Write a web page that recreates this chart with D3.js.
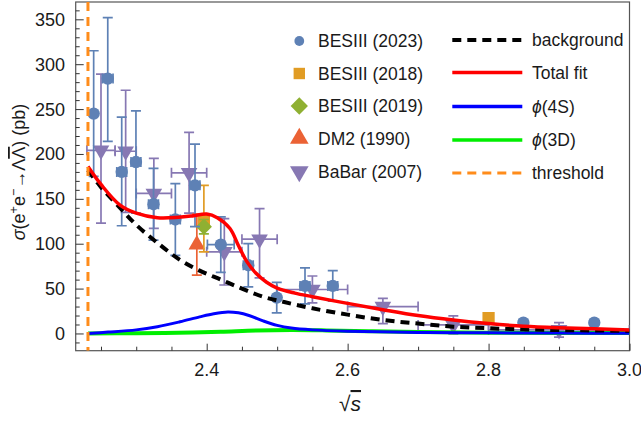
<!DOCTYPE html>
<html>
<head>
<meta charset="utf-8">
<script src="https://cdn.jsdelivr.net/npm/d3@7"></script>
<style>
body { margin: 0; background: #fff; }
text { font-family: "Liberation Sans", Arial, sans-serif; fill: #1a1a1a; }
</style>
</head>
<body>
<div class="content"></div>
<script>
var size = {width: 641, height: 428};
var plotBox = {left: 75.7, right: 629.5, top: 2, bottom: 350.7};

// data points: [x, y, errDown, errUp, xLo, xHi]
var bes2023 = [
    [2.2396, 245, 70, 70, 2.2396, 2.2396],
    [2.2596, 284, 70, 68, 2.2521, 2.2671],
    [2.2794, 180, 60, 61, 2.2724, 2.2864],
    [2.2996, 191, 57, 57, 2.2926, 2.3066],
    [2.3245, 144, 40, 40, 2.3175, 2.3315],
    [2.3555, 127, 40, 40, 2.3485, 2.3625],
    [2.3834, 165, 46, 46, 2.3764, 2.3904],
    [2.4200, 99, 31, 31, 2.4010, 2.4390],
    [2.4590, 76, 24, 24, 2.4520, 2.4660],
    [2.4994, 40, 17, 17, 2.4994, 2.4994],
    [2.5395, 53, 20, 20, 2.5325, 2.5465],
    [2.5789, 53, 17, 17, 2.5719, 2.5859],
    [2.8494, 12, 3, 3, 2.8494, 2.8494],
    [2.9500, 12, 3, 3, 2.9500, 2.9500]
];
var bes2018 = [
    [2.3960, 126, 35, 39, 2.3960, 2.3960],
    [2.8000, 17, 2, 2, 2.8000, 2.8000]
];
var bes2019 = [
    [2.3960, 119, 8, 8, 2.3960, 2.3960]
];
var dm2 = [
    [2.3860, 99, 34, 34, 2.3860, 2.3860]
];
var babar = [
    [2.250, 204, 81, 85, 2.23, 2.27],
    [2.285, 203, 68, 68, 2.27, 2.30],
    [2.325, 156, 39, 39, 2.30, 2.35],
    [2.375, 179, 45, 45, 2.35, 2.40],
    [2.425, 91, 37, 37, 2.40, 2.45],
    [2.475, 105, 43, 34, 2.45, 2.50],
    [2.550, 49, 15, 15, 2.50, 2.60],
    [2.650, 30, 19, 9, 2.60, 2.70],
    [2.750, 9.5, 10, 10, 2.70, 2.80],
    [2.900, 4, 8, 8, 2.80, 3.00]
];

// fit curves: [x, y]
var background = [[2.2315,182],[2.25,163],[2.277,140],[2.30,121],[2.33,101],[2.362,82],[2.39,70],[2.42,60],
    [2.45,50],[2.48,41],[2.51,35],[2.55,28],[2.60,21],[2.65,15],[2.70,11],[2.75,7.6],[2.80,5.8],[2.85,4.6],
    [2.90,3.8],[2.95,3.3],[3.0,3]];
var totalFit = [[2.2315,186],[2.25,166],[2.277,143],[2.30,134],[2.33,129],[2.36,129.5],[2.38,131],[2.40,133],
    [2.415,129],[2.433,117],[2.445,98],[2.457,80],[2.47,67],[2.485,57],[2.50,50.5],[2.525,45],[2.55,41],
    [2.60,33.5],[2.65,26.5],[2.70,20],[2.75,15],[2.80,11],[2.85,8],[2.90,6.3],[2.95,5.2],[3.0,4]];
var phi4S = [[2.2315,0],[2.26,1.5],[2.30,4],[2.33,7.5],[2.362,13],[2.39,18.5],[2.41,22],[2.43,24],[2.445,23],
    [2.46,20],[2.48,14],[2.50,9],[2.52,6],[2.55,4],[2.60,2.5],[2.70,1.2],[2.80,0.7],[2.90,0.4],[3.0,0.3]];
var phi3D = [[2.2315,0],[2.30,0.3],[2.36,0.8],[2.42,2],[2.47,3.3],[2.52,3.8],[2.57,3.4],[2.63,2.5],[2.70,1.6],
    [2.80,0.9],[2.90,0.6],[3.0,0.5]];
var threshold = 2.2315;

var xMajor = [2.4, 2.6, 2.8, 3.0];
var xMinor = [2.25, 2.3, 2.35, 2.45, 2.5, 2.55, 2.65, 2.7, 2.75, 2.85, 2.9, 2.95];
var yMajor = [0, 50, 100, 150, 200, 250, 300, 350];

var pointLegend = ["BESIII (2023)", "BESIII (2018)", "BESIII (2019)", "DM2 (1990)", "BaBar (2007)"];
var lineLegend = ["background", "Total fit", "\u03d5(4S)", "\u03d5(3D)", "threshold"];

var chart = d3.select('.content')
    .append('svg')
    .attr('width', size.width)
    .attr('height', size.height);

var xScale = d3.scaleLinear().domain([2.2141, 3.0]).range([plotBox.left, plotBox.right]);
var yScale = d3.scaleLinear().domain([-19.2, 369.3]).range([plotBox.bottom, plotBox.top]);

chart.append('clipPath').attr('id', 'clipper').append('rect')
    .attr('x', plotBox.left).attr('y', plotBox.top)
    .attr('width', plotBox.right - plotBox.left)
    .attr('height', plotBox.bottom - plotBox.top);

// frame
chart.append('rect')
    .attr('x', plotBox.left).attr('y', plotBox.top)
    .attr('width', plotBox.right - plotBox.left)
    .attr('height', plotBox.bottom - plotBox.top)
    .attr('fill', 'none').attr('stroke', '#555').attr('stroke-width', 1.2);

// x ticks (inward)
var xAxis = d3.axisTop(xScale).tickValues(xMajor).tickSize(7).tickFormat('');
chart.append('g').attr('transform', 'translate(0,' + plotBox.bottom + ')').call(xAxis)
    .call(function(g) { g.select('.domain').remove(); g.selectAll('line').attr('stroke', '#333'); });
var xAxisMinor = d3.axisTop(xScale).tickValues(xMinor).tickSize(4).tickFormat('');
chart.append('g').attr('transform', 'translate(0,' + plotBox.bottom + ')').call(xAxisMinor)
    .call(function(g) { g.select('.domain').remove(); g.selectAll('line').attr('stroke', '#333'); });
chart.selectAll('.xlab').data(xMajor).enter().append('text')
    .attr('x', function(d) { return xScale(d); })
    .attr('y', 376)
    .attr('text-anchor', 'middle')
    .style('font-size', '18px')
    .text(function(d) { return d.toFixed(1); });

// y ticks (inward)
var yMinor = d3.range(-10, 361, 10).filter(function(v) { return v % 50 !== 0; });
var yAxis = d3.axisRight(yScale).tickValues(yMajor).tickSize(8).tickFormat('');
chart.append('g').attr('transform', 'translate(' + plotBox.left + ',0)').call(yAxis)
    .call(function(g) { g.select('.domain').remove(); g.selectAll('line').attr('stroke', '#333'); });
var yAxisMinor = d3.axisRight(yScale).tickValues(yMinor).tickSize(4).tickFormat('');
chart.append('g').attr('transform', 'translate(' + plotBox.left + ',0)').call(yAxisMinor)
    .call(function(g) { g.select('.domain').remove(); g.selectAll('line').attr('stroke', '#333'); });
chart.selectAll('.ylab').data(yMajor).enter().append('text')
    .attr('x', 65)
    .attr('y', function(d) { return yScale(d) + 6.5; })
    .attr('text-anchor', 'end')
    .style('font-size', '18px')
    .text(function(d) { return d; });

// axis titles
var yTitle = chart.append('text')
    .attr('transform', 'translate(25,172) rotate(-90)')
    .attr('text-anchor', 'middle')
    .style('font-size', '18px');
yTitle.append('tspan').style('font-style', 'italic').text('\u03c3');
yTitle.append('tspan').text('(e');
yTitle.append('tspan').attr('dy', -7).style('font-size', '12.5px').text('+');
yTitle.append('tspan').attr('dy', 7).text('e');
yTitle.append('tspan').attr('dy', -7).style('font-size', '12.5px').text('\u2212');
yTitle.append('tspan').attr('dy', 7).text('\u2192\u039b');
yTitle.append('tspan').style('text-decoration', 'overline').text('\u039b');
yTitle.append('tspan').text(') (pb)');

var xTitle = chart.append('text')
    .attr('x', 350).attr('y', 411)
    .attr('text-anchor', 'middle')
    .style('font-size', '21px');
xTitle.append('tspan').text('\u221a');
xTitle.append('tspan').style('font-style', 'italic').style('text-decoration', 'overline').text('s');

// data layer
var main = chart.append('g').attr('clip-path', 'url(#clipper)');

function drawSeries(data, color, symbol, symSize) {
    var g = main.append('g');
    var cap = 5;
    var bar = function(x1, y1, x2, y2) {
        g.append('line').attr('x1', x1).attr('x2', x2).attr('y1', y1).attr('y2', y2)
            .attr('stroke', color).attr('stroke-width', 1.7);
    };
    data.forEach(function(d) {
        var cx = xScale(d[0]), cy = yScale(d[1]);
        var y1 = yScale(d[1] + d[3]), y0 = yScale(d[1] - d[2]);
        bar(cx, y1, cx, y0);
        bar(cx - cap, y1, cx + cap, y1);
        bar(cx - cap, y0, cx + cap, y0);
        if (d[5] > d[4]) {
            var xa = xScale(d[4]), xb = xScale(d[5]);
            bar(xa, cy, xb, cy);
            bar(xa, cy - cap, xa, cy + cap);
            bar(xb, cy - cap, xb, cy + cap);
        }
    });
    g.selectAll('path.sym').data(data).enter().append('path')
        .attr('d', d3.symbol().type(symbol).size(symSize))
        .attr('transform', function(d) { return 'translate(' + xScale(d[0]) + ',' + yScale(d[1]) + ')'; })
        .attr('fill', color);
}

var triangleDown = {
    draw: function(context, s) {
        var h = Math.sqrt(s / 0.433), ht = h * 0.866;
        context.moveTo(-h / 2, -ht / 3);
        context.lineTo(h / 2, -ht / 3);
        context.lineTo(0, ht * 2 / 3);
        context.closePath();
    }
};
var triangleUp = {
    draw: function(context, s) {
        var h = Math.sqrt(s / 0.433), ht = h * 0.866;
        context.moveTo(-h / 2, ht / 3);
        context.lineTo(h / 2, ht / 3);
        context.lineTo(0, -ht * 2 / 3);
        context.closePath();
    }
};
var diamond = {
    draw: function(context, s) {
        var r = Math.sqrt(s / 2);
        context.moveTo(0, -r); context.lineTo(r, 0); context.lineTo(0, r); context.lineTo(-r, 0);
        context.closePath();
    }
};

var colors = {
    bes2023: '#5e81b5', bes2018: '#e19c24', bes2019: '#8fb032', dm2: '#eb6235', babar: '#8778b3'
};

drawSeries(babar, colors.babar, triangleDown, 120);
drawSeries(dm2, colors.dm2, triangleUp, 120);
drawSeries(bes2018, colors.bes2018, d3.symbolSquare, 150);
drawSeries(bes2019, colors.bes2019, diamond, 130);
drawSeries(bes2023, colors.bes2023, d3.symbolCircle, 120);

// curves
var line = d3.line()
    .x(function(d) { return xScale(d[0]); })
    .y(function(d) { return yScale(d[1]); })
    .curve(d3.curveCatmullRom);

main.append('path').datum(phi3D).attr('d', line)
    .attr('fill', 'none').attr('stroke', '#00ee00').attr('stroke-width', 4);
main.append('path').datum(phi4S).attr('d', line)
    .attr('fill', 'none').attr('stroke', '#0000ff').attr('stroke-width', 3);
main.append('path').datum(background).attr('d', line)
    .attr('fill', 'none').attr('stroke', '#000').attr('stroke-width', 4).attr('stroke-dasharray', '9,6');
main.append('path').datum(totalFit).attr('d', line)
    .attr('fill', 'none').attr('stroke', '#ff0000').attr('stroke-width', 3.5);
main.append('line')
    .attr('x1', xScale(threshold)).attr('x2', xScale(threshold))
    .attr('y1', plotBox.top).attr('y2', plotBox.bottom)
    .attr('stroke', '#ff8c1a').attr('stroke-width', 3).attr('stroke-dasharray', '9,6');

// legend
var legendRows = [41, 73.5, 106, 138.5, 171.5];
var legendSyms = [
    [d3.symbolCircle, colors.bes2023, 75],
    [d3.symbolSquare, colors.bes2018, 130],
    [diamond, colors.bes2019, 150],
    [triangleUp, colors.dm2, 150],
    [triangleDown, colors.babar, 150]
];
var legend = chart.append('g');
pointLegend.forEach(function(name, i) {
    legend.append('path')
        .attr('d', d3.symbol().type(legendSyms[i][0]).size(legendSyms[i][2]))
        .attr('transform', 'translate(299.3,' + legendRows[i] + ')')
        .attr('fill', legendSyms[i][1]);
    legend.append('text').attr('x', 318).attr('y', legendRows[i] + 6.3)
        .style('font-size', '17.5px').text(name);
});
var lineStyles = [
    ['#000', 4, '9,6'], ['#ff0000', 3.5, null], ['#0000ff', 3.5, null], ['#00ee00', 3.5, null], ['#ff8c1a', 3, '9,6']
];
var lineRows = [40, 72.5, 106.5, 140, 173];
lineLegend.forEach(function(name, i) {
    var l = legend.append('line').attr('x1', 452.3).attr('x2', 522.3)
        .attr('y1', lineRows[i]).attr('y2', lineRows[i])
        .attr('stroke', lineStyles[i][0]).attr('stroke-width', lineStyles[i][1]);
    if (lineStyles[i][2]) l.attr('stroke-dasharray', lineStyles[i][2]);
    var t = legend.append('text').attr('x', 532).attr('y', lineRows[i] + 6.3).style('font-size', '17.5px');
    if (i === 2 || i === 3) {
        t.append('tspan').style('font-style', 'italic').text(name.charAt(0));
        t.append('tspan').text(name.slice(1));
    } else {
        t.text(name);
    }
});
</script>
</body>
</html>
